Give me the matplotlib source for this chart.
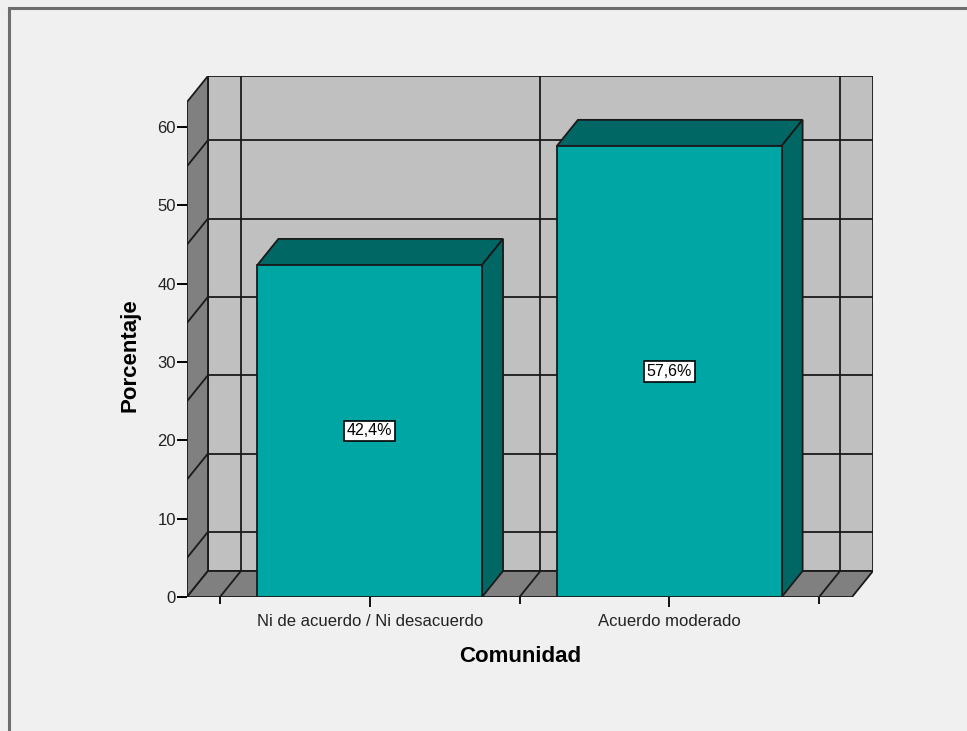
import matplotlib
matplotlib.use("Agg")
import matplotlib.pyplot as plt
from matplotlib.patches import Polygon, Rectangle
from matplotlib.lines import Line2D

plt.rcParams['font.family'] = ['Liberation Sans', 'DejaVu Sans']

# ---- data ----
categories = ["Ni de acuerdo / Ni desacuerdo", "Acuerdo moderado"]
values = [42.4, 57.6]
value_labels = ["42,4%", "57,6%"]
yticks = [0, 10, 20, 30, 40, 50, 60]
back_grid = [5, 15, 25, 35, 45, 55]
x_title = "Comunidad"
y_title = "Porcentaje"

# ---- geometry / style ----
DX, DY = 0.07, 3.32          # depth offset (x in category units, y in value units)
BW = 0.75                    # bar width
X0, X1 = -0.61, 1.61         # front floor extent
YTOP = 63.2
FACE = "#00A6A4"
DARK = "#006764"
WALL = "#C0C0C0"
SIDE = "#808080"
EDGE = "#1a1a1a"

fig = plt.figure(figsize=(9.67, 7.31), dpi=100)
fig.patch.set_facecolor("#F0F0F0")

# outer frame (top and left edges)
fig.add_artist(Line2D([9/967, 9/967], [0, 1 - 8/731], transform=fig.transFigure,
                      color="#6e6e6e", lw=2.2))
fig.add_artist(Line2D([9/967, 1], [1 - 8/731, 1 - 8/731], transform=fig.transFigure,
                      color="#6e6e6e", lw=2.2))

ax = fig.add_axes([187/967, 1 - 597/731, (873 - 187)/967, (597 - 76)/731])
ax.set_xlim(X0, X1 + DX)
ax.set_ylim(0, YTOP + DY)
ax.set_facecolor("none")
for s in ax.spines.values():
    s.set_visible(False)

lw = 1.3
# back wall
ax.add_patch(Rectangle((X0 + DX, DY), (X1 - X0), YTOP, facecolor=WALL,
                       edgecolor=EDGE, lw=lw, zorder=1))
for v in back_grid:
    ax.plot([X0 + DX, X1 + DX], [v + DY, v + DY], color=EDGE, lw=lw, zorder=2)
bounds = [i - 0.5 for i in range(len(categories) + 1)]
for b in bounds:
    ax.plot([b + DX, b + DX], [DY, YTOP + DY], color=EDGE, lw=lw, zorder=2)

# left wall
ax.add_patch(Polygon([(X0, 0), (X0 + DX, DY), (X0 + DX, YTOP + DY), (X0, YTOP)],
                     closed=True, facecolor=SIDE, edgecolor=EDGE, lw=lw, zorder=3))
for v in back_grid:
    ax.plot([X0, X0 + DX], [v, v + DY], color=EDGE, lw=lw, zorder=4)

# floor
ax.add_patch(Polygon([(X0, 0), (X1, 0), (X1 + DX, DY), (X0 + DX, DY)],
                     closed=True, facecolor=SIDE, edgecolor=EDGE, lw=lw, zorder=3))
for b in bounds:
    ax.plot([b, b + DX], [0, DY], color=EDGE, lw=lw, zorder=4)

# bars
for i, (v, lab) in enumerate(zip(values, value_labels)):
    l, r = i - BW / 2, i + BW / 2
    ax.add_patch(Polygon([(l, v), (r, v), (r + DX, v + DY), (l + DX, v + DY)],
                         closed=True, facecolor=DARK, edgecolor=EDGE, lw=lw, zorder=5))
    ax.add_patch(Polygon([(r, 0), (r + DX, DY), (r + DX, v + DY), (r, v)],
                         closed=True, facecolor=DARK, edgecolor=EDGE, lw=lw, zorder=5))
    ax.add_patch(Rectangle((l, 0), BW, v, facecolor=FACE, edgecolor=EDGE,
                           lw=lw, zorder=6))
    ax.text(i, v / 2, lab, ha="center", va="center", fontsize=11.5, zorder=7,
            bbox=dict(boxstyle="square,pad=0.18", facecolor="white",
                      edgecolor="black", lw=1.2))

# axes ticks
ax.set_yticks(yticks)
ax.set_yticklabels([str(t) for t in yticks], fontsize=12, color="#222222")
ax.tick_params(axis="y", direction="out", length=7, width=1.4, pad=1, color="black")
ax.set_xticks(range(len(categories)))
ax.set_xticklabels(categories, fontsize=12, color="#222222")
ax.set_xticks(bounds, minor=True)
ax.tick_params(axis="x", which="major", direction="out", length=7, width=1.3,
               pad=5, color="black")
ax.tick_params(axis="x", which="minor", direction="out", length=5, width=1.3,
               color="black")

fig.text(520/967, 1 - 657/731, x_title, ha="center", va="center",
         fontsize=16, fontweight="bold")
fig.text(130/967, 1 - 355/731, y_title, ha="center", va="center",
         fontsize=16, fontweight="bold", rotation=90)

fig.savefig("out.png", dpi=100, facecolor=fig.get_facecolor())
